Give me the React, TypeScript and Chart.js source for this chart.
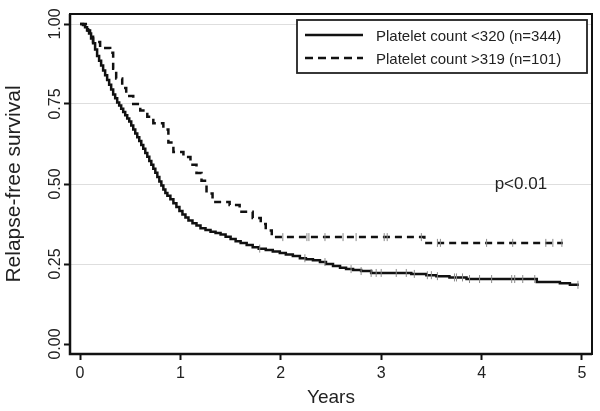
import React, { useEffect, useRef } from 'react';
import { Chart, registerables } from 'chart.js';

Chart.register(...registerables);

const X_TICKS = [0, 1, 2, 3, 4, 5];
const Y_TICKS = [0, 0.25, 0.5, 0.75, 1];
const Y_TICK_LABELS = ['0.00', '0.25', '0.50', '0.75', '1.00'];
const X_TITLE = 'Years';
const Y_TITLE = 'Relapse-free survival';
const LEGEND_LABELS = ['Platelet count <320 (n=344)', 'Platelet count >319 (n=101)'];
const P_TEXT = 'p<0.01';
const P_POS = [4.13, 0.484];

const LOW_TIMES = [0, 0.03, 0.05, 0.07, 0.09, 0.11, 0.13, 0.15, 0.17, 0.19, 0.21, 0.23, 0.25, 0.27, 0.29, 0.31, 0.33, 0.35, 0.37, 0.39, 0.41, 0.43, 0.45, 0.47, 0.49, 0.51, 0.53, 0.55, 0.57, 0.59, 0.61, 0.63, 0.65, 0.67, 0.69, 0.71, 0.73, 0.75, 0.77, 0.79, 0.81, 0.83, 0.85, 0.87, 0.90, 0.93, 0.96, 0.99, 1.02, 1.05, 1.08, 1.12, 1.16, 1.20, 1.25, 1.30, 1.35, 1.40, 1.45, 1.50, 1.55, 1.60, 1.66, 1.72, 1.78, 1.85, 1.92, 1.99, 2.05, 2.12, 2.19, 2.25, 2.32, 2.39, 2.45, 2.52, 2.59, 2.65, 2.72, 2.80, 2.90, 3.30, 3.45, 3.55, 3.68, 3.85, 4.55, 4.78, 4.88, 4.97];
const LOW_SURV = [1.0, 0.997, 0.99, 0.98, 0.97, 0.955, 0.94, 0.92, 0.90, 0.885, 0.87, 0.855, 0.84, 0.825, 0.81, 0.795, 0.78, 0.768, 0.755, 0.745, 0.735, 0.725, 0.715, 0.705, 0.695, 0.683, 0.67, 0.658, 0.646, 0.634, 0.622, 0.61, 0.597, 0.585, 0.572, 0.56, 0.548, 0.535, 0.522, 0.508, 0.495, 0.483, 0.472, 0.463, 0.452, 0.44, 0.428, 0.416, 0.405, 0.395, 0.386, 0.377, 0.37, 0.362, 0.356, 0.351, 0.347, 0.342, 0.335, 0.328, 0.321, 0.316, 0.309, 0.302, 0.298, 0.294, 0.289, 0.284, 0.28, 0.275, 0.268, 0.265, 0.262, 0.256, 0.25, 0.244, 0.238, 0.234, 0.231, 0.228, 0.222, 0.219, 0.215, 0.212, 0.208, 0.203, 0.194, 0.190, 0.185, 0.185];
const LOW_CENSOR = [1.79, 2.24, 2.44, 2.70, 2.80, 2.90, 2.95, 3.00, 3.15, 3.25, 3.33, 3.46, 3.50, 3.56, 3.73, 3.75, 3.81, 3.88, 3.98, 4.10, 4.30, 4.33, 4.41, 4.53, 4.96];

const HIGH_TIMES = [0, 0.08, 0.10, 0.13, 0.20, 0.30, 0.33, 0.36, 0.42, 0.46, 0.53, 0.60, 0.67, 0.73, 0.83, 0.88, 0.93, 1.03, 1.10, 1.16, 1.21, 1.26, 1.32, 1.49, 1.59, 1.72, 1.80, 1.85, 1.91, 3.43, 4.81];
const HIGH_SURV = [1.0, 0.98, 0.96, 0.944, 0.925, 0.91, 0.86, 0.83, 0.80, 0.775, 0.75, 0.73, 0.71, 0.69, 0.67, 0.63, 0.60, 0.584, 0.56, 0.534, 0.51, 0.47, 0.444, 0.434, 0.413, 0.394, 0.375, 0.355, 0.334, 0.316, 0.316];
const HIGH_CENSOR = [2.02, 2.26, 2.28, 2.44, 2.62, 2.75, 3.03, 3.06, 3.40, 3.56, 3.59, 4.05, 4.31, 4.64, 4.71, 4.80];

const FONT = '"Liberation Sans", Arial, Helvetica, sans-serif';
const TEXT_COLOR = '#222';

function stepAt(times: number[], surv: number[], t: number): number {
  let v = surv[0];
  for (let i = 0; i < times.length; i++) {
    if (times[i] <= t) v = surv[i];
  }
  return v;
}

const overlayPlugin = {
  id: 'overlay',
  afterDraw(chart: any) {
    const { ctx, chartArea: a, scales } = chart;
    ctx.save();
    // frame
    ctx.strokeStyle = '#111';
    ctx.lineWidth = 2;
    ctx.strokeRect(a.left, a.top, a.right - a.left, a.bottom - a.top);
    ctx.lineWidth = 2.5;
    ctx.beginPath();
    ctx.moveTo(a.left, a.top);
    ctx.lineTo(a.left, a.bottom);
    ctx.lineTo(a.right, a.bottom);
    ctx.stroke();

    // y tick labels, rotated
    ctx.fillStyle = TEXT_COLOR;
    ctx.font = `16px ${FONT}`;
    Y_TICKS.forEach((v, i) => {
      const py = scales.y.getPixelForValue(v);
      ctx.save();
      ctx.translate(a.left - 10, py);
      ctx.rotate(-Math.PI / 2);
      ctx.textAlign = 'center';
      ctx.textBaseline = 'alphabetic';
      ctx.fillText(Y_TICK_LABELS[i], 0, 0);
      ctx.restore();
    });

    // legend box
    const bx = a.right - 295;
    const by = a.top + 6;
    const bw = 290;
    const bh = 53;
    ctx.fillStyle = '#fff';
    ctx.fillRect(bx, by, bw, bh);
    ctx.strokeStyle = '#222';
    ctx.lineWidth = 1.8;
    ctx.strokeRect(bx, by, bw, bh);
    const rows = [by + 16, by + 39];
    const dashes = [[], [8, 5]];
    ctx.font = `15px ${FONT}`;
    ctx.textAlign = 'left';
    ctx.textBaseline = 'middle';
    rows.forEach((ry, i) => {
      ctx.beginPath();
      ctx.setLineDash(dashes[i]);
      ctx.lineWidth = 2.5;
      ctx.strokeStyle = '#111';
      ctx.moveTo(bx + 8, ry - 1);
      ctx.lineTo(bx + 66, ry - 1);
      ctx.stroke();
      ctx.setLineDash([]);
      ctx.fillStyle = TEXT_COLOR;
      ctx.fillText(LEGEND_LABELS[i], bx + 79, ry + 1);
    });

    // p value
    ctx.font = `17px ${FONT}`;
    ctx.textBaseline = 'alphabetic';
    ctx.fillStyle = TEXT_COLOR;
    ctx.fillText(P_TEXT, scales.x.getPixelForValue(P_POS[0]), scales.y.getPixelForValue(P_POS[1]));
    ctx.restore();
  },
};

export default function App() {
  const ref = useRef<HTMLCanvasElement | null>(null);
  useEffect(() => {
    document.body.style.margin = '0';
    const canvas = ref.current;
    if (!canvas) return;
    const low = LOW_TIMES.map((t, i) => ({ x: t, y: LOW_SURV[i] }));
    const high = HIGH_TIMES.map((t, i) => ({ x: t, y: HIGH_SURV[i] }));
    const lowC = LOW_CENSOR.map((t) => ({ x: t, y: stepAt(LOW_TIMES, LOW_SURV, t) }));
    const highC = HIGH_CENSOR.map((t) => ({ x: t, y: stepAt(HIGH_TIMES, HIGH_SURV, t) }));
    const censorStyle = {
      type: 'scatter' as const,
      showLine: false,
      pointStyle: 'line',
      rotation: 90,
      pointRadius: 4,
      borderColor: '#8a8a8a',
      backgroundColor: '#8a8a8a',
      pointBorderWidth: 1,
    };
    const chart = new Chart(canvas, {
      type: 'line',
      data: {
        datasets: [
          { ...censorStyle, data: lowC } as any,
          { ...censorStyle, data: highC } as any,
          {
            data: low,
            borderColor: '#111',
            borderWidth: 2.5,
            stepped: 'before',
            pointRadius: 0,
            fill: false,
          },
          {
            data: high,
            borderColor: '#111',
            borderWidth: 2.5,
            borderDash: [7, 5],
            stepped: 'before',
            pointRadius: 0,
            fill: false,
          },
        ],
      },
      options: {
        responsive: false,
        animation: false,
        layout: { padding: { top: 14, right: 8, left: 0, bottom: 0 } },
        plugins: { legend: { display: false }, tooltip: { enabled: false } },
        scales: {
          x: {
            type: 'linear',
            min: -0.1,
            max: 5.1,
            afterBuildTicks: (s: any) => {
              s.ticks = X_TICKS.map((v) => ({ value: v }));
            },
            afterFit: (s: any) => {
              s.height = 57;
            },
            border: { display: false },
            grid: {
              drawOnChartArea: false,
              drawTicks: true,
              tickLength: 6,
              tickColor: '#111',
              tickWidth: 2,
            },
            ticks: {
              color: TEXT_COLOR,
              font: { family: FONT, size: 16 },
              padding: 4,
              maxRotation: 0,
              callback: (v: any) => String(v),
            },
            title: {
              display: true,
              text: X_TITLE,
              color: TEXT_COLOR,
              font: { family: FONT, size: 19 },
              padding: { top: 0, bottom: 2 },
            },
          },
          y: {
            type: 'linear',
            min: -0.03125,
            max: 1.03125,
            afterBuildTicks: (s: any) => {
              s.ticks = Y_TICKS.map((v) => ({ value: v }));
            },
            afterFit: (s: any) => {
              s.width = 70;
            },
            border: { display: false },
            grid: {
              color: (c: any) => (c.tick && c.tick.value === 0 ? 'rgba(0,0,0,0)' : '#dedede'),
              lineWidth: 1,
              drawTicks: true,
              tickLength: 6,
              tickColor: '#111',
              tickWidth: 2,
            },
            ticks: { display: false },
            title: {
              display: true,
              text: Y_TITLE,
              color: TEXT_COLOR,
              font: { family: FONT, size: 21 },
              padding: { top: 2, bottom: 0 },
            },
          },
        },
      },
      plugins: [overlayPlugin],
    });
    return () => chart.destroy();
  }, []);
  return (
    <div style={{ width: 600, height: 411 }}>
      <canvas ref={ref} width={600} height={411} />
    </div>
  );
}
